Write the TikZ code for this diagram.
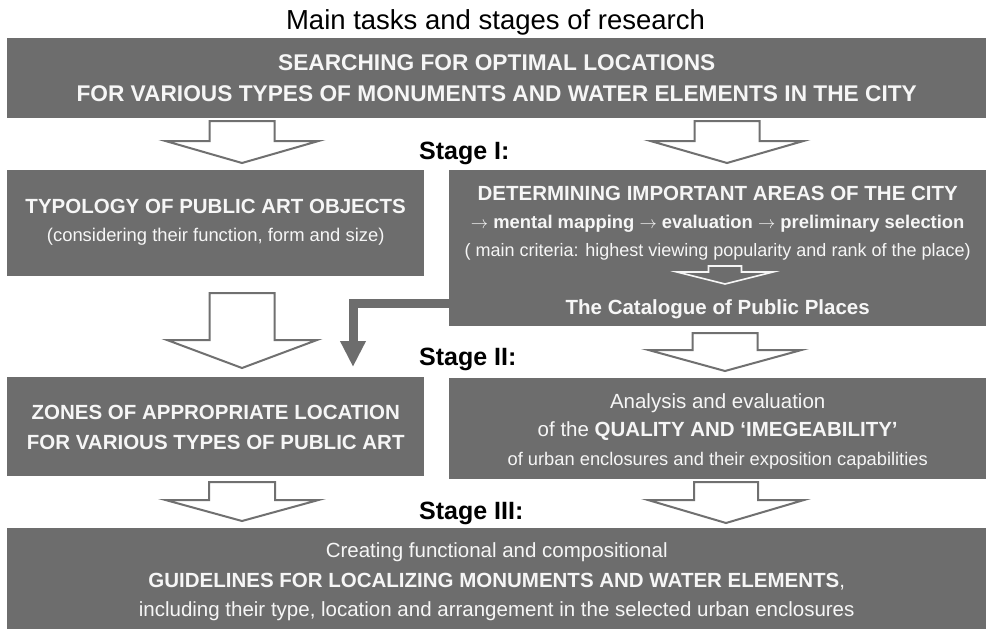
\documentclass[tikz,border=0pt]{standalone}
\usepackage{fontspec}
\setmainfont{Liberation Sans}
\usetikzlibrary{arrows.meta}
\definecolor{boxgray}{RGB}{109,109,109}
\definecolor{arrgray}{RGB}{112,112,112}
\definecolor{boxtext}{RGB}{246,246,246}
\newcommand\fsz[2]{\fontsize{#1pt}{#2pt}\selectfont}
\newcommand\stt[2]{\rule[-#2pt]{0pt}{\dimexpr#1pt+#2pt\relax}}
\newcommand\hollowarr[7]{\draw[#7] ({#1-#2},#4) -- ({#1+#2},#4) -- ({#1+#2},#5) -- ({#1+#3},#5) -- (#1,#6) -- ({#1-#3},#5) -- ({#1-#2},#5) -- cycle;}
\begin{document}
\begin{tikzpicture}[x=1pt,y=-1pt,
  box/.style={fill=boxgray, inner sep=0pt, align=center, text=boxtext, anchor=north west},
  stagelbl/.style={anchor=base west, font=\fsz{25}{30}\bfseries, inner sep=0pt},
  hollow/.style={draw=arrgray, fill=white, line width=2pt, line join=miter},
  innerarr/.style={draw=boxtext, fill=boxgray, line width=1.6pt, line join=miter},
  elbow/.style={draw=boxgray, line width=9pt, -{Triangle[width=24pt,length=26pt]}}]
\useasboundingbox (0,0) rectangle (986,629);
\fill[white] (0,0) rectangle (986,629);

\node[anchor=base, inner sep=0pt, font=\fsz{27.5}{33}] (title) at (495.5,30) {Main tasks and stages of research};

\node[box, minimum width=979pt, minimum height=80pt, font=\fsz{22.7}{31}\bfseries] (top) at (7,38)
  {\stt{20}{4}SEARCHING FOR OPTIMAL LOCATIONS\\\stt{20}{4}FOR VARIOUS TYPES OF MONUMENTS AND WATER ELEMENTS IN THE CITY};

\node[box, minimum width=417pt, minimum height=106pt, font=\fsz{20.5}{28.5}] (typ) at (7,170)
  {\stt{16.5}{8}\textbf{TYPOLOGY OF PUBLIC ART OBJECTS}\\\stt{16.5}{8}{\fsz{18.4}{28.5}(considering their function, form and size)}};

\node[box, minimum width=537pt, minimum height=156pt, font=\fsz{20.5}{28}] (det) at (449,170)
  {\stt{22}{4}\textbf{DETERMINING IMPORTANT AREAS OF THE CITY}\\
   \stt{22}{4}{\fsz{18.4}{28}\bfseries $\rightarrow$ mental mapping $\rightarrow$ evaluation $\rightarrow$ preliminary selection}\\
   \stt{22}{4}{\fsz{18}{28}( main criteria: highest viewing popularity and rank of the place)}\\[30pt]
   \stt{22}{4}\textbf{The Catalogue of Public Places}};

\node[box, minimum width=417pt, minimum height=99pt, font=\fsz{20.5}{30}\bfseries] (zones) at (7,377)
  {\stt{20}{5}ZONES OF APPROPRIATE LOCATION\\\stt{20}{5}FOR VARIOUS TYPES OF PUBLIC ART};

\node[box, minimum width=537pt, minimum height=101pt, font=\fsz{20.5}{28.5}] (ana) at (449,378)
  {\stt{20}{4}Analysis and evaluation\\
   \stt{20}{4}of the \textbf{QUALITY AND ‘IMEGEABILITY’}\\
   \stt{20}{4}{\fsz{18.3}{28.5}of urban enclosures and their exposition capabilities}};

\node[box, minimum width=979pt, minimum height=101pt, font=\fsz{20.5}{29.5}] (guide) at (7,528)
  {\stt{21}{3}Creating functional and compositional\\
   \stt{21}{3}\textbf{GUIDELINES FOR LOCALIZING MONUMENTS AND WATER ELEMENTS},\\
   \stt{21}{3}including their type, location and arrangement in the selected urban enclosures};

\node[stagelbl] (s1) at (419,159) {Stage I:};
\node[stagelbl] (s2) at (419,365) {Stage II:};
\node[stagelbl] (s3) at (419,519) {Stage III:};

% hollow block arrows between stages
\hollowarr{242}{32.5}{76.5}{121}{141}{163}{hollow}
\hollowarr{727}{32.5}{76.5}{121}{141}{163}{hollow}
\hollowarr{242}{32.5}{75}{293}{340}{368}{hollow}
\hollowarr{725}{32.5}{76.5}{333}{350}{371}{hollow}
\hollowarr{242}{33}{76.5}{482}{500}{521}{hollow}
\hollowarr{726}{32}{78}{482}{500}{523}{hollow}
% small arrow inside the determining box
\hollowarr{725}{16.5}{48}{266}{272}{284}{innerarr}

% elbow connector from determining box to zones box
\coordinate (elb) at (353,303);
\draw[elbow, shorten >=10pt] (det.west |- elb) -- (elb) -- (zones.north -| elb);
\end{tikzpicture}
\end{document}
